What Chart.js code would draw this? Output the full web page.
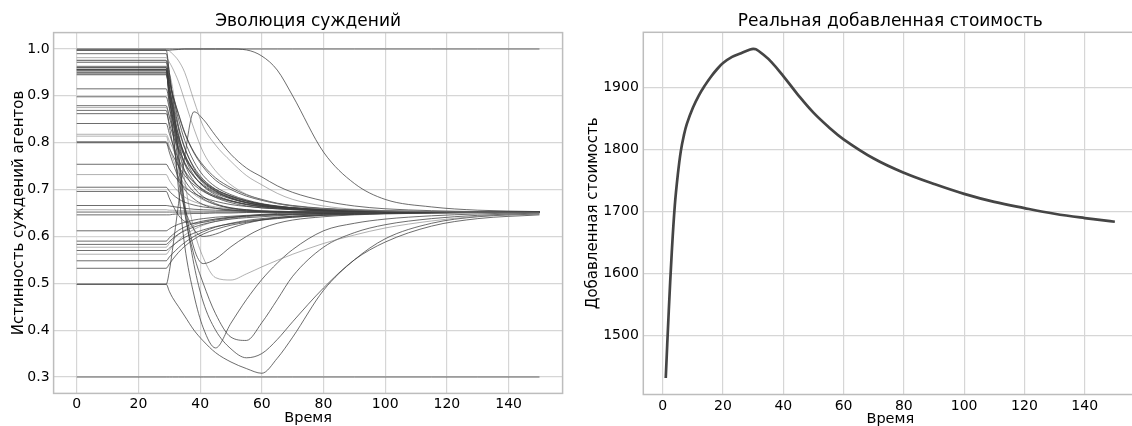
<!DOCTYPE html>
<html>
<head>
<meta charset="utf-8">
<script src="https://cdn.jsdelivr.net/npm/chart.js@4.4.1/dist/chart.umd.min.js"></script>
<style>
  html, body { margin: 0; padding: 0; background: #fff; width: 1132px; height: 426px; overflow: hidden; }
  #left { position: absolute; left: 0; top: 0; }
  #right { position: absolute; left: 570px; top: 0; }
</style>
</head>
<body>
<canvas id="left" width="570" height="426"></canvas>
<canvas id="right" width="580" height="426"></canvas>
<script>
// ---- data: opinion evolution (values at these time points) ----
var steps = [0, 29, 30, 31, 33, 35, 38, 41, 45, 50, 55, 60, 65, 70, 80, 90, 100, 115, 130, 150];

var stubbornHigh = [1, 1, 1, 1, 1, 1, 1, 1, 1, 1, 1, 1, 1, 1, 1, 1, 1, 1, 1, 1];
var stubbornLow = [0.3, 0.3, 0.3, 0.3, 0.3, 0.3, 0.3, 0.3, 0.3, 0.3, 0.3, 0.3, 0.3, 0.3, 0.3, 0.3, 0.3, 0.3, 0.3, 0.3];
var lateDrop = [0.997, 0.997, 0.9975, 0.998, 0.999, 1.0, 1.0, 1.0, 1.0, 1.0, 0.998, 0.985, 0.955, 0.9, 0.78, 0.713, 0.679, 0.663, 0.656, 0.653];
var slow1 = [0.998, 0.998, 0.996, 0.99, 0.975, 0.95, 0.89, 0.835, 0.795, 0.76, 0.73, 0.71, 0.692, 0.679, 0.665, 0.658, 0.655, 0.653, 0.652, 0.652];
var slow2 = [0.9815, 0.9815, 0.972, 0.96, 0.93, 0.89, 0.83, 0.78, 0.74, 0.71, 0.69, 0.678, 0.67, 0.665, 0.659, 0.656, 0.654, 0.653, 0.652, 0.652];

var h1 = [0.998, 0.998, 0.95, 0.90, 0.835, 0.79, 0.745, 0.718, 0.697, 0.682, 0.672, 0.666, 0.662, 0.659, 0.656, 0.654, 0.653, 0.652, 0.652, 0.652];
var h2 = [0.976, 0.976, 0.94, 0.905, 0.85, 0.805, 0.76, 0.73, 0.706, 0.689, 0.678, 0.67, 0.665, 0.661, 0.657, 0.655, 0.653, 0.652, 0.652, 0.652];
var h3 = [0.9716, 0.9716, 0.925, 0.88, 0.815, 0.77, 0.73, 0.707, 0.689, 0.676, 0.668, 0.663, 0.66, 0.658, 0.655, 0.654, 0.653, 0.652, 0.652, 0.652];
var h4 = [0.963, 0.963, 0.935, 0.905, 0.86, 0.82, 0.778, 0.748, 0.72, 0.70, 0.686, 0.677, 0.67, 0.665, 0.659, 0.656, 0.654, 0.653, 0.652, 0.652];
var h5 = [0.96, 0.96, 0.91, 0.87, 0.80, 0.755, 0.718, 0.698, 0.683, 0.672, 0.665, 0.661, 0.659, 0.657, 0.655, 0.654, 0.653, 0.652, 0.652, 0.652];
var h6 = [0.956, 0.956, 0.92, 0.885, 0.83, 0.788, 0.748, 0.722, 0.701, 0.686, 0.676, 0.669, 0.664, 0.661, 0.657, 0.655, 0.653, 0.652, 0.652, 0.652];
var h7 = [0.953, 0.953, 0.93, 0.905, 0.862, 0.822, 0.78, 0.752, 0.725, 0.704, 0.689, 0.679, 0.671, 0.666, 0.66, 0.657, 0.655, 0.653, 0.652, 0.652];
var h8 = [0.95, 0.95, 0.9, 0.855, 0.785, 0.74, 0.704, 0.685, 0.67, 0.661, 0.657, 0.654, 0.653, 0.653, 0.652, 0.652, 0.652, 0.652, 0.652, 0.652];
var h9 = [0.947, 0.947, 0.91, 0.875, 0.815, 0.775, 0.738, 0.714, 0.696, 0.681, 0.672, 0.666, 0.662, 0.659, 0.656, 0.654, 0.653, 0.652, 0.652, 0.652];
var h10 = [0.956, 0.956, 0.88, 0.83, 0.72, 0.66, 0.615, 0.60, 0.605, 0.618, 0.628, 0.635, 0.64, 0.643, 0.647, 0.649, 0.65, 0.651, 0.652, 0.652];

var dip539 = [0.99, 0.99, 0.95, 0.9, 0.78, 0.67, 0.575, 0.542, 0.552, 0.578, 0.6, 0.617, 0.628, 0.635, 0.642, 0.646, 0.648, 0.65, 0.651, 0.652];
var dip505 = [0.975, 0.975, 0.95, 0.92, 0.83, 0.72, 0.615, 0.555, 0.512, 0.507, 0.52, 0.535, 0.549, 0.562, 0.585, 0.603, 0.618, 0.633, 0.643, 0.649];
var dip357 = [0.955, 0.955, 0.9, 0.84, 0.70, 0.58, 0.475, 0.405, 0.362, 0.415, 0.465, 0.508, 0.543, 0.572, 0.612, 0.628, 0.637, 0.644, 0.648, 0.651];
var dip373 = [0.945, 0.945, 0.905, 0.86, 0.75, 0.65, 0.56, 0.50, 0.435, 0.385, 0.378, 0.416, 0.465, 0.515, 0.577, 0.608, 0.625, 0.638, 0.645, 0.65];
var dip339 = [0.96, 0.96, 0.92, 0.88, 0.77, 0.66, 0.54, 0.46, 0.40, 0.36, 0.341, 0.35, 0.38, 0.418, 0.49, 0.55, 0.588, 0.622, 0.638, 0.646];
var dip307 = [0.498, 0.498, 0.483, 0.47, 0.45, 0.43, 0.40, 0.377, 0.352, 0.332, 0.318, 0.308, 0.34, 0.385, 0.485, 0.55, 0.595, 0.628, 0.642, 0.648];
var hump = [0.498, 0.498, 0.525, 0.57, 0.67, 0.77, 0.866, 0.85, 0.815, 0.775, 0.746, 0.727, 0.708, 0.694, 0.676, 0.665, 0.659, 0.655, 0.653, 0.652];

var m915 = [0.915, 0.915, 0.888, 0.86, 0.81, 0.775, 0.74, 0.718, 0.70, 0.686, 0.676, 0.669, 0.664, 0.661, 0.657, 0.655, 0.653, 0.652, 0.652, 0.652];
var m898 = [0.898, 0.898, 0.874, 0.85, 0.805, 0.77, 0.738, 0.716, 0.698, 0.684, 0.675, 0.668, 0.664, 0.661, 0.657, 0.655, 0.653, 0.652, 0.652, 0.652];
var m879 = [0.879, 0.879, 0.855, 0.83, 0.79, 0.758, 0.728, 0.708, 0.692, 0.68, 0.672, 0.666, 0.662, 0.66, 0.656, 0.654, 0.653, 0.652, 0.652, 0.652];
var m875 = [0.875, 0.875, 0.858, 0.84, 0.80, 0.77, 0.74, 0.72, 0.70, 0.686, 0.676, 0.669, 0.665, 0.662, 0.657, 0.655, 0.653, 0.652, 0.652, 0.652];
var m869 = [0.869, 0.869, 0.835, 0.80, 0.75, 0.72, 0.695, 0.68, 0.668, 0.66, 0.656, 0.654, 0.653, 0.652, 0.652, 0.652, 0.652, 0.652, 0.652, 0.652];
var m862 = [0.862, 0.862, 0.842, 0.82, 0.785, 0.755, 0.728, 0.71, 0.694, 0.682, 0.673, 0.667, 0.663, 0.66, 0.656, 0.654, 0.653, 0.652, 0.652, 0.652];
var m841 = [0.841, 0.841, 0.82, 0.80, 0.765, 0.74, 0.716, 0.70, 0.686, 0.676, 0.669, 0.664, 0.661, 0.659, 0.655, 0.654, 0.653, 0.652, 0.652, 0.652];
var m818 = [0.818, 0.818, 0.804, 0.79, 0.76, 0.737, 0.714, 0.699, 0.686, 0.676, 0.669, 0.664, 0.661, 0.659, 0.655, 0.654, 0.653, 0.652, 0.652, 0.652];
var m814 = [0.814, 0.814, 0.792, 0.77, 0.735, 0.71, 0.69, 0.678, 0.668, 0.661, 0.657, 0.655, 0.654, 0.653, 0.652, 0.652, 0.652, 0.652, 0.652, 0.652];
var m802 = [0.802, 0.802, 0.788, 0.775, 0.75, 0.73, 0.71, 0.696, 0.684, 0.675, 0.668, 0.664, 0.661, 0.659, 0.655, 0.654, 0.653, 0.652, 0.652, 0.652];
var m800 = [0.8, 0.8, 0.78, 0.76, 0.725, 0.70, 0.68, 0.668, 0.66, 0.656, 0.654, 0.653, 0.652, 0.652, 0.652, 0.652, 0.652, 0.652, 0.652, 0.652];

var l754 = [0.754, 0.754, 0.744, 0.735, 0.718, 0.705, 0.692, 0.683, 0.675, 0.668, 0.664, 0.661, 0.659, 0.657, 0.655, 0.654, 0.653, 0.652, 0.652, 0.652];
var l732 = [0.732, 0.732, 0.72, 0.71, 0.695, 0.684, 0.674, 0.668, 0.663, 0.659, 0.657, 0.655, 0.654, 0.653, 0.652, 0.652, 0.652, 0.652, 0.652, 0.652];
var l705 = [0.705, 0.705, 0.697, 0.69, 0.68, 0.673, 0.667, 0.663, 0.66, 0.657, 0.655, 0.654, 0.653, 0.653, 0.652, 0.652, 0.652, 0.652, 0.652, 0.652];
var l696 = [0.696, 0.696, 0.682, 0.668, 0.645, 0.632, 0.628, 0.63, 0.635, 0.64, 0.644, 0.647, 0.649, 0.65, 0.651, 0.652, 0.652, 0.652, 0.652, 0.652];

var n666 = [0.666, 0.666, 0.665, 0.664, 0.662, 0.66, 0.658, 0.657, 0.656, 0.655, 0.654, 0.653, 0.653, 0.652, 0.652, 0.652, 0.652, 0.652, 0.652, 0.652];
var n657 = [0.657, 0.657, 0.656, 0.656, 0.655, 0.655, 0.654, 0.654, 0.653, 0.653, 0.653, 0.652, 0.652, 0.652, 0.652, 0.652, 0.652, 0.652, 0.652, 0.652];
var n652 = [0.652, 0.652, 0.652, 0.652, 0.652, 0.652, 0.652, 0.652, 0.652, 0.652, 0.652, 0.652, 0.652, 0.652, 0.652, 0.652, 0.652, 0.652, 0.652, 0.652];
var n646 = [0.646, 0.646, 0.646, 0.647, 0.648, 0.648, 0.649, 0.649, 0.65, 0.65, 0.651, 0.651, 0.651, 0.652, 0.652, 0.652, 0.652, 0.652, 0.652, 0.652];

var r612 = [0.612, 0.612, 0.616, 0.62, 0.626, 0.63, 0.635, 0.638, 0.641, 0.643, 0.645, 0.646, 0.647, 0.648, 0.649, 0.65, 0.651, 0.651, 0.652, 0.652];
var r590 = [0.59, 0.59, 0.597, 0.603, 0.613, 0.62, 0.628, 0.633, 0.637, 0.641, 0.643, 0.645, 0.646, 0.647, 0.649, 0.65, 0.651, 0.651, 0.652, 0.652];
var r583 = [0.583, 0.583, 0.589, 0.595, 0.605, 0.612, 0.62, 0.626, 0.632, 0.637, 0.64, 0.642, 0.644, 0.646, 0.648, 0.65, 0.651, 0.651, 0.652, 0.652];
var r577 = [0.577, 0.577, 0.585, 0.592, 0.604, 0.614, 0.624, 0.631, 0.637, 0.641, 0.644, 0.646, 0.647, 0.648, 0.649, 0.65, 0.651, 0.651, 0.652, 0.652];
var r570 = [0.57, 0.57, 0.575, 0.58, 0.59, 0.598, 0.607, 0.614, 0.621, 0.627, 0.632, 0.636, 0.639, 0.641, 0.645, 0.647, 0.649, 0.65, 0.651, 0.652];
var r562 = [0.562, 0.562, 0.57, 0.578, 0.592, 0.603, 0.615, 0.624, 0.632, 0.638, 0.642, 0.645, 0.646, 0.648, 0.649, 0.65, 0.651, 0.651, 0.652, 0.652];
var r548 = [0.548, 0.548, 0.556, 0.563, 0.576, 0.587, 0.6, 0.61, 0.62, 0.628, 0.634, 0.638, 0.641, 0.643, 0.646, 0.648, 0.65, 0.651, 0.651, 0.652];
var r532 = [0.532, 0.532, 0.541, 0.55, 0.566, 0.579, 0.594, 0.605, 0.615, 0.624, 0.63, 0.635, 0.638, 0.641, 0.645, 0.647, 0.649, 0.65, 0.651, 0.652];

var agents = [stubbornHigh, stubbornLow, lateDrop, slow1, slow2,
  h1, h2, h3, h4, h5, h6, h7, h8, h9, h10,
  dip539, dip505, dip357, dip373, dip339, dip307, hump,
  m915, m898, m879, m875, m869, m862, m841, m818, m814, m802, m800,
  l754, l732, l705, l696, n666, n657, n652, n646,
  r612, r590, r583, r577, r570, r562, r548, r532];
var lightAgents = [slow1, slow2, dip505, m875, m814, m818, l732, r577, r562, n657];

var timeTicks = [0, 20, 40, 60, 80, 100, 120, 140];
var opinionTicks = [0.3, 0.4, 0.5, 0.6, 0.7, 0.8, 0.9, 1.0];

// ---- data: real value added ----
var vaTime = [1, 2, 3, 4, 5, 6, 7, 8, 10, 12, 14, 16, 18, 20, 23, 26, 29, 30, 31, 33, 36, 40, 45, 50, 55, 60, 70, 80, 90, 100, 110, 120, 130, 140, 150];
var vaValues = [1432, 1540, 1635, 1710, 1760, 1798, 1823, 1842, 1868, 1888, 1904, 1918, 1930, 1940, 1950, 1956, 1962, 1963, 1962, 1955, 1942, 1919, 1888, 1860, 1837, 1817, 1786, 1763, 1745, 1729, 1716, 1706, 1697, 1690, 1684];
var vaTicks = [1500, 1600, 1700, 1800, 1900];

// ---- style ----
var FONT = "'DejaVu Sans', sans-serif";
var gridColor = "#d6d6d6";

var framePlugin = {
  id: "frame",
  beforeDatasetsDraw: function (chart) {
    var a = chart.chartArea, c = chart.ctx;
    c.save();
    c.strokeStyle = "#bdbdbd";
    c.lineWidth = 1.5;
    c.strokeRect(a.left, a.top, a.right - a.left, a.bottom - a.top);
    c.restore();
  }
};

function fixTicks(values) {
  return function (scale) {
    scale.ticks = values.map(function (v) { return { value: v }; });
  };
}

function axisTitle(text, size, pad) {
  return { display: true, text: text, color: "#000", font: { family: FONT, size: size, lineHeight: 1.2 }, padding: pad };
}

Chart.defaults.font.family = FONT;

var leftSets = agents.map(function (a) {
  var light = lightAgents.indexOf(a) >= 0;
  return {
    data: steps.map(function (t, i) { return { x: t, y: a[i] }; }),
    borderColor: light ? "rgba(125,125,125,0.6)" : "rgba(60,60,60,0.75)",
    borderWidth: 1,
    pointRadius: 0,
    cubicInterpolationMode: "monotone",
    fill: false
  };
});

new Chart(document.getElementById("left"), {
  type: "line",
  data: { datasets: leftSets },
  options: {
    responsive: false,
    animation: false,
    devicePixelRatio: 1,
    layout: { padding: { left: 0, right: 7.4, top: 0, bottom: 0 } },
    plugins: {
      legend: { display: false },
      tooltip: { enabled: false },
      title: {
        display: true, text: "Эволюция суждений", color: "#000", fullSize: false,
        font: { family: FONT, size: 17, weight: "normal", lineHeight: 1.2 },
        padding: { top: 11.8, bottom: 0.4 }
      }
    },
    scales: {
      x: {
        type: "linear", min: -7.5, max: 157.5,
        afterBuildTicks: fixTicks(timeTicks),
        afterFit: function (s) { s.height = 32.6; },
        grid: { color: gridColor, lineWidth: 1.2, drawTicks: false },
        border: { display: false },
        ticks: { color: "#000", font: { size: 14 }, padding: 3, maxRotation: 0 },
        title: axisTitle("Время", 14.5, { top: 0, bottom: -0.5 })
      },
      y: {
        type: "linear", min: 0.265, max: 1.035,
        afterBuildTicks: fixTicks(opinionTicks),
        afterFit: function (s) { s.width = 53.6; },
        grid: { color: gridColor, lineWidth: 1.2, drawTicks: false },
        border: { display: false },
        ticks: { color: "#000", font: { size: 14 }, padding: 4, callback: function (v) { return v.toFixed(1); } },
        title: axisTitle("Истинность суждений агентов", 15, { top: 10, bottom: 0 })
      }
    }
  },
  plugins: [framePlugin]
});

new Chart(document.getElementById("right"), {
  type: "line",
  data: {
    datasets: [{
      data: vaTime.map(function (t, i) { return { x: t, y: vaValues[i] }; }),
      borderColor: "#454545",
      borderWidth: 2.7,
      pointRadius: 0,
      tension: 0.4,
      fill: false
    }]
  },
  options: {
    responsive: false,
    animation: false,
    devicePixelRatio: 1,
    layout: { padding: { left: 0, right: 12.7, top: 0, bottom: 0 } },
    plugins: {
      legend: { display: false },
      tooltip: { enabled: false },
      title: {
        display: true, text: "Реальная добавленная стоимость", color: "#000", fullSize: false,
        font: { family: FONT, size: 17, weight: "normal", lineHeight: 1.2 },
        padding: { top: 11.5, bottom: 0.4 }
      }
    },
    scales: {
      x: {
        type: "linear", min: -6.45, max: 157.45,
        afterBuildTicks: fixTicks(timeTicks),
        afterFit: function (s) { s.height = 31.5; },
        grid: { color: gridColor, lineWidth: 1.2, drawTicks: false },
        border: { display: false },
        ticks: { color: "#000", font: { size: 14 }, padding: 3, maxRotation: 0 },
        title: axisTitle("Время", 14.5, { top: 0, bottom: -2 })
      },
      y: {
        type: "linear", min: 1405.4, max: 1989.6,
        afterBuildTicks: fixTicks(vaTicks),
        afterFit: function (s) { s.width = 73.3; },
        grid: { color: gridColor, lineWidth: 1.2, drawTicks: false },
        border: { display: false },
        ticks: { color: "#000", font: { size: 14 }, padding: 4.5, callback: function (v) { return String(v); } },
        title: axisTitle("Добавленная стоимость", 15, { top: 14.5, bottom: 0 })
      }
    }
  },
  plugins: [framePlugin]
});
</script>
</body>
</html>
